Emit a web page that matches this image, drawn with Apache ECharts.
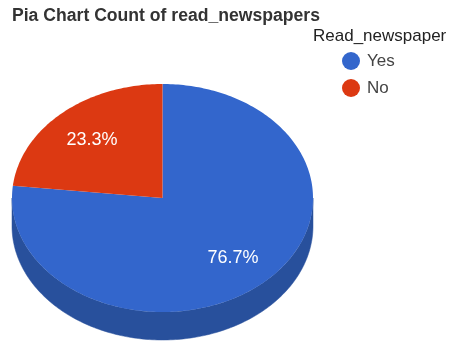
<!DOCTYPE html>
<html>
<head>
<meta charset="utf-8">
<style>html,body{margin:0;padding:0;background:#fff}#chart{width:450px;height:341px}</style>
<script src="https://cdn.jsdelivr.net/npm/echarts@6/dist/echarts.min.js"></script>
</head>
<body>
<div id="chart"></div>
<script>
const titleText = 'Pia Chart Count of read_newspapers';
const legendTitle = 'Read_newspaper';
const categories = ['Yes', 'No'];
const values = [76.7, 23.3];
const topColors = ['#3366cc', '#dc3912'];
const wallColors = ['#28509c', '#a82b0e'];

// Tilted disc geometry
const disc = { cx: 162.5, cy: 198, rx: 150.5, ry: 114, depth: 28 };
const labelRadius = 0.7;
const total = values.reduce((a, b) => a + b, 0);

// Angles run clockwise from twelve o'clock
function rimPoint(deg, dy) {
  const a = deg * Math.PI / 180;
  return [disc.cx + disc.rx * Math.sin(a), disc.cy - disc.ry * Math.cos(a) + (dy || 0)];
}
function arc(from, to, dy) {
  const pts = [];
  const steps = Math.max(2, Math.ceil(Math.abs(to - from)));
  for (let i = 0; i <= steps; i++) pts.push(rimPoint(from + (to - from) * i / steps, dy));
  return pts;
}
function sliceAngles(index) {
  const before = values.slice(0, index).reduce((a, b) => a + b, 0);
  return [before / total * 360, (before + values[index]) / total * 360];
}

function renderSlice(index) {
  return function (params, api) {
    const [start, end] = sliceAngles(index);
    const children = [];
    // Only the near half of the rim shows a side wall
    const wallFrom = Math.max(start, 90);
    const wallTo = Math.min(end, 270);
    if (wallTo > wallFrom) {
      const wall = arc(wallFrom, wallTo, 0).concat(arc(wallTo, wallFrom, disc.depth));
      children.push({
        type: 'polygon',
        shape: { points: wall },
        style: { fill: wallColors[index], stroke: wallColors[index], lineWidth: 0.5 }
      });
    }
    children.push({
      type: 'polygon',
      shape: { points: [[disc.cx, disc.cy]].concat(arc(start, end, 0)) },
      style: { fill: topColors[index] }
    });
    const mid = (start + end) / 2 * Math.PI / 180;
    children.push({
      type: 'text',
      z2: 10,
      style: {
        x: disc.cx + disc.rx * labelRadius * Math.sin(mid),
        y: disc.cy - disc.ry * labelRadius * Math.cos(mid) + 1,
        text: api.value(0).toFixed(1) + '%',
        fill: '#ffffff',
        font: '18px "Liberation Sans", Arial, sans-serif',
        align: 'center',
        verticalAlign: 'middle'
      }
    });
    return { type: 'group', children };
  };
}

const chart = echarts.init(document.getElementById('chart'), null, { renderer: 'canvas' });
chart.setOption({
  animation: false,
  backgroundColor: '#ffffff',
  title: [
    { text: titleText, left: 12, top: 7, padding: 0,
      textStyle: { fontFamily: '"Liberation Sans", Arial, sans-serif', fontSize: 17.6, fontWeight: 'bold', color: '#333333' } },
    { text: legendTitle, left: 313, top: 28, padding: 0,
      textStyle: { fontFamily: '"Liberation Sans", Arial, sans-serif', fontSize: 17, fontWeight: 'normal', color: '#222222' } }
  ],
  legend: {
    orient: 'vertical',
    left: 342,
    top: 52,
    padding: 0,
    itemGap: 9,
    itemWidth: 18,
    itemHeight: 18,
    icon: 'circle',
    data: categories,
    textStyle: { fontFamily: '"Liberation Sans", Arial, sans-serif', fontSize: 17, color: '#444444', padding: [0, 0, 0, 2] }
  },
  series: categories.map((name, i) => ({
    type: 'custom',
    name,
    coordinateSystem: 'none',
    silent: true,
    itemStyle: { color: topColors[i] },
    renderItem: renderSlice(i),
    data: [[values[i]]]
  }))
});
</script>
</body>
</html>
